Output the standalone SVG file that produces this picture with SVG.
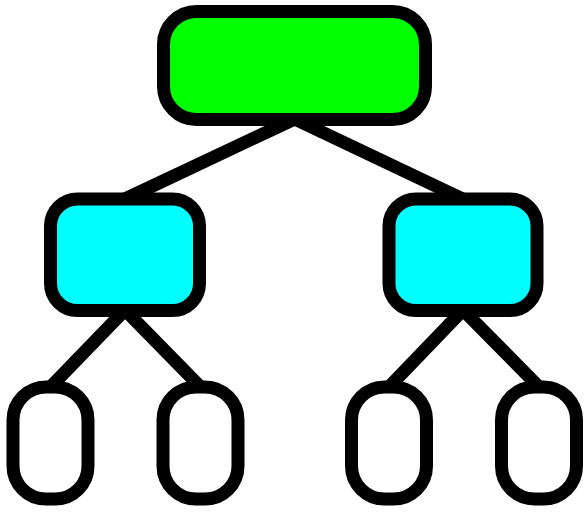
<svg xmlns="http://www.w3.org/2000/svg" width="587" height="512" viewBox="0 0 587 512">
  <style>
    .node { stroke: #000; stroke-width: 13; }
    .root { fill: #00ff00; }
    .mid { fill: #00ffff; }
    .leaf { fill: #ffffff; }
    .edge { stroke: #000; stroke-width: 13; fill: none; }
  </style>
  <rect width="587" height="512" fill="#ffffff"/>
  <!-- tree edges, drawn beneath the nodes -->
  <g id="connectors">
    <line class="edge" x1="294.5" y1="119" x2="125" y2="199"/>
    <line class="edge" x1="294.5" y1="119" x2="463" y2="199"/>
    <line class="edge" x1="125" y1="310" x2="50.5" y2="387"/>
    <line class="edge" x1="125" y1="310" x2="200.5" y2="387"/>
    <line class="edge" x1="463" y1="310" x2="389" y2="387"/>
    <line class="edge" x1="463" y1="310" x2="539" y2="387"/>
  </g>
  <g id="root">
    <rect class="node root" x="163.5" y="11.5" width="262" height="108" rx="33" ry="33"/>
  </g>
  <g id="child-left">
    <rect class="node mid" x="50.5" y="199" width="149" height="111.5" rx="27" ry="27"/>
  </g>
  <g id="child-right">
    <rect class="node mid" x="389" y="199" width="148" height="111.5" rx="27" ry="27"/>
  </g>
  <g id="leaf-1">
    <rect class="node leaf" x="13" y="387" width="75" height="112" rx="33" ry="33"/>
  </g>
  <g id="leaf-2">
    <rect class="node leaf" x="163" y="387" width="75" height="112" rx="33" ry="33"/>
  </g>
  <g id="leaf-3">
    <rect class="node leaf" x="351.5" y="387" width="75" height="112" rx="33" ry="33"/>
  </g>
  <g id="leaf-4">
    <rect class="node leaf" x="501.5" y="387" width="75" height="112" rx="33" ry="33"/>
  </g>
</svg>
